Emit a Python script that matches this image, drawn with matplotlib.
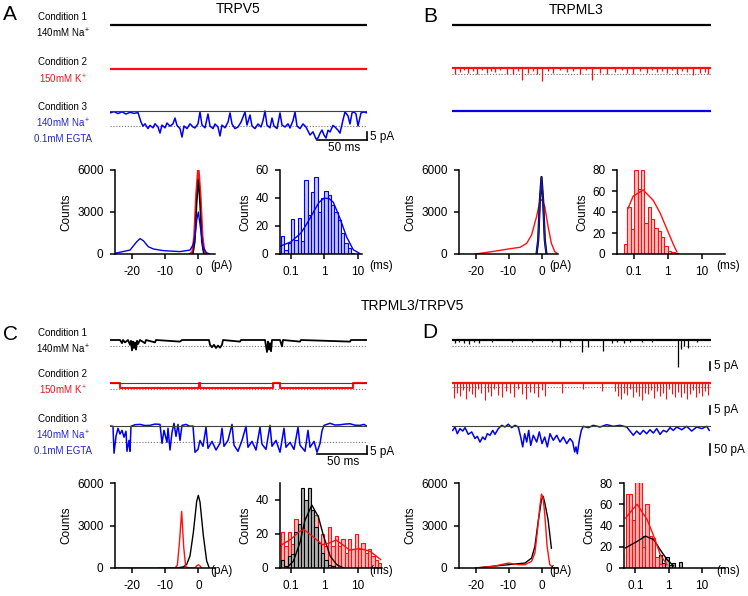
import numpy as np
import matplotlib
matplotlib.use("Agg")
import matplotlib.pyplot as plt
from matplotlib.ticker import NullLocator

plt.rcParams['font.family'] = ['Liberation Sans', 'DejaVu Sans']
plt.rcParams['mathtext.fontset'] = 'custom'
plt.rcParams['mathtext.rm'] = 'Liberation Sans'
plt.rcParams['mathtext.it'] = 'Liberation Sans:italic'
plt.rcParams['mathtext.bf'] = 'Liberation Sans:bold'
plt.rcParams['axes.unicode_minus'] = False

RED = '#ff1010'
BLUE = '#0000f0'
TXT_RED = '#e8141c'
TXT_BLUE = '#2626c8'

########### single channel traces: (time ms, current pA)
a3_pts = [(0, -1.2), (4, -0.4), (8, -1.6), (12, -0.5), (16, -1.9), (20, -0.8), (24, -1.5), (28, -1),
          (31, -6.9), (33, -9.5), (35, -8), (38, -11), (40, -9), (43, -10.5), (45, -8), (48, -10), (50, -13.8),
          (52, -8.8), (55, -10.5), (57, -7.5), (60, -9.5), (63, -8), (65, -4.4), (67, -9), (70, -11),
          (72, -16.3), (74, -9.4), (77, -11), (80, -8), (83, -10), (85, -10.6), (88, -8), (90, -0.6), (92, -8.8),
          (95, -10.5), (98, -1.9), (100, -9.4), (103, -11), (105, -8.1), (108, -10), (110, -15.6), (112, -8.8),
          (115, -10.5), (118, -7), (120, -1.2), (122, -8.1), (125, -11), (128, -10), (131, -7), (135, -0.6),
          (137, -8.8), (140, -2.5), (142, -9.4), (145, -11), (148, -8.1), (151, -10), (153, -6), (155, 0),
          (157, -8.8), (160, -10.5), (162, -4.4), (164, -9.4), (167, -11), (170, -1.2), (172, -8.8), (175, -10),
          (178, -8), (180, -10.6), (183, -6), (185, -0.6), (187, -9.4), (190, -11), (193, -8.1), (196, -10),
          (200, -15), (203, -13), (206, -17.5), (208, -16.9), (210, -14), (212, -11.9), (214, -15), (216, -16.9),
          (218, -12), (220, -13.1), (223, -9), (225, -10), (228, -12), (230, -13.8), (233, -5.6), (235, -0.6),
          (238, -3), (240, -8.1), (242, -1.2), (244, -0.5), (246, -1.9), (248, -9.4), (251, -1.2), (254, -0.6),
          (257, -1.2)]

b2_spike_t = [3, 8, 12, 16, 21, 25, 30, 35, 39, 43, 48, 55, 61, 66, 70, 76, 81, 85, 90, 96, 101, 108, 115, 121,
              128, 134, 140, 148, 155, 163, 170, 175, 181, 188, 195, 200, 205, 210, 215, 220, 225, 230, 235, 241,
              248, 253, 256]
b2_spike_d = [3.5, 2.5, 1.5, 3, 2, 4, 1.5, 3, 2, 2.5, 1.5, 3.5, 4, 2, 7.5, 3, 2, 3.5, 8, 2, 3, 1.5, 2.5, 2,
              3.5, 1.5, 7.5, 3, 4, 2.5, 1.5, 3, 3.5, 2, 3, 1.5, 2.5, 2, 3, 1.5, 3.5, 2, 2.5, 4.5, 3, 2.5, 3.5]

c1_pts = [(0, 0), (10, 0), (12, -2), (13, 0), (15, -1.5), (18, 0), (20, -3), (21, -0.5), (22, -6.5), (23, -1),
          (24, -5), (25, -1.5), (26, -6), (27, -0.5), (28, -2.5), (30, 0), (35, -2), (36, 0), (45, -1.5), (46, 0),
          (70, -1), (72, 0), (99, 0), (100, -3), (102, -4.5), (104, -3), (106, -5), (108, -3.5), (110, -4.8),
          (112, -3), (113, 0), (130, -1), (131, 0), (155, 0), (157, -7.5), (158, -1), (159, -6), (160, -2),
          (161, -7), (162, 0), (170, 0), (172, -4), (173, 0), (190, -1), (191, 0), (240, -1), (241, 0), (257, 0)]

c2_pts = [(0, 0), (10, 0), (10, -2.9), (89, -2.9), (89, 0), (90, 0), (90, -2.9), (163, -2.9), (163, 0),
          (170, 0), (170, -2.9), (243, -2.9), (243, 0), (257, 0)]

c3_pts = [(0, 0), (3, -0.2), (4, -17), (6, -6.5), (8, -1.4), (10, -5), (12, -2.7), (14, -7), (16, -3.3),
          (17, -15.8), (19, -9), (20, -15.8), (21, -0.2), (25, 0.8), (30, 1), (35, 0.3), (40, 0.4), (45, 1.2),
          (50, 1), (52, -10.8), (54, -2.7), (57, -10.2), (58, -1.4), (60, -15), (62, -4), (64, 1.7), (66, -6.5),
          (68, 1), (70, -9), (72, 0.4), (76, 1), (80, -0.2), (83, 0), (85, -16.4), (88, -14.6), (90, -9),
          (93, -12.7), (96, -0.8), (98, -14), (102, -9.6), (106, -15), (110, -10.8), (112, -1.4), (114, -12.7),
          (118, -9), (122, 1), (124, -12), (128, -15.8), (132, -9), (136, -0.2), (138, -13.3), (142, -9.6),
          (146, -15), (150, -0.8), (152, -11.4), (156, -14.6), (160, 0.4), (162, -12.7), (166, -9), (170, -16.4),
          (174, -1.4), (176, -13.3), (180, -10.2), (184, -14.6), (188, -0.8), (190, -12), (195, -15.8),
          (198, -2.7), (200, -13.3), (204, -9.6), (207, -16.4), (210, -11), (212, -3), (214, 0.4), (220, 1.7),
          (225, 0.6), (230, 0.75), (235, 1.2), (240, 1.4), (245, 0.5), (250, 0.4), (254, 1), (257, -0.2)]

d1_spike_t = [3, 7, 12, 17, 22, 27, 40, 60, 80, 100, 108, 118, 130, 136, 151, 160, 165, 172, 178, 190, 200,
              226, 229, 232, 236, 245]
d1_spike_d = [2, 1.5, 2, 2.5, 1.5, 2, 1, 1.5, 1, 1.5, 4.2, 1.5, 7.5, 4.2, 6.9, 2, 1.5, 2, 1.5, 1, 1.5,
              17, 5.6, 4, 5, 1.5]

d2_spike_t = [2, 5, 8, 11, 14, 17, 20, 23, 26, 29, 33, 36, 39, 42, 46, 50, 54, 58, 62, 66, 70, 74, 78, 82, 86,
              90, 93, 110, 131, 150, 163, 166, 169, 172, 175, 178, 181, 184, 187, 190, 193, 196, 199, 202, 205,
              208, 211, 214, 217, 220, 223, 226, 229, 232, 235, 238, 241, 244, 247, 250, 253, 256]
d2_spike_d = [9.5, 6, 8, 4.5, 10, 5, 7, 9, 4, 6.5, 10.4, 5.5, 8, 3.5, 7.5, 9, 5, 6, 8.5, 4, 7, 10, 5.5, 6, 9,
              4.5, 8, 6, 4, 5, 5, 8, 10, 6, 7.5, 4, 9, 5.5, 8, 10.4, 6, 7, 4.5, 9.5, 5, 8, 6.5, 10, 4, 7, 9,
              5.5, 8.5, 6, 10, 7, 4.5, 9, 6, 8, 5, 7.5]

d3_pts = [(0.7, -20), (3, -4.5), (5.3, -35), (8, -12), (10.7, -23), (13, -7.5), (16.3, -38), (19.7, -27),
          (23, -57), (25.3, -47), (28, -73), (30.7, -50), (33, -62), (35.3, -35), (38, -42), (40.7, -20),
          (43, -38), (46.3, -12), (49.7, 3), (53, -4.5), (56.3, 8), (59.7, -7.5), (63, 3), (66.3, -4.5),
          (68.7, -50), (70.7, -95), (72.7, -35), (74.7, -73), (76.7, -20), (78.7, -88), (81.3, -42), (84.7, -73),
          (87.3, -27), (90, -80), (92.7, -50), (95.3, -95), (98, -35), (101.3, -65), (104.7, -42), (108, -73),
          (111.3, -50), (114.7, -80), (118, -57), (120.7, -73), (122.7, -118), (124, -95), (125.3, -126),
          (127.3, -65), (129.3, -20), (131.3, -1.4), (136.3, -7.5), (141.3, 3), (148, -4.5), (154.7, 6),
          (161.3, -1.4), (168, 3), (174.7, -4.5), (178.7, -27), (181.3, -42), (184.7, -23), (188, -38),
          (191.3, -20), (194.7, -35), (198, -17), (201.3, -32), (204.7, -12), (208, -38), (211.3, -20),
          (214.7, -27), (218, -7.5), (221.3, -20), (224.7, -4.5), (229.7, -17), (234.7, -1.4), (239.7, -23),
          (244.7, -4.5), (249.7, -12), (254.7, -1.4), (257.3, -20)]

########### amplitude histograms (pA, counts)
a_amp_blue_x = [-25, -20.5, -18.5, -17.5, -16.5, -15, -13.5, -10.5, -5.5, -2.5, -1.5, -1, -0.5, 0, 0.6, 1.4, 2.4, 3.4]
a_amp_blue_y = [50, 280, 870, 1100, 950, 520, 360, 240, 170, 280, 700, 1230, 2400, 3000, 1950, 520, 95, 0]
a_amp_red_x = [-2.5, -1.8, -1.2, -0.6, 0, 0.6, 1.2, 1.8, 2.5]
a_amp_red_y = [0, 150, 1300, 4300, 6200, 4300, 1300, 150, 0]
a_amp_black_x = [-1.6, -1.0, -0.5, 0, 0.5, 1.0, 1.6]
a_amp_black_y = [0, 900, 3500, 5300, 3500, 900, 0]

b_amp_red_x = [-20, -15, -10, -6.5, -4.5, -3, -1.5, -0.5, 0.2, 1, 2, 3, 4, 5]
b_amp_red_y = [0, 170, 360, 480, 760, 1360, 2670, 3740, 3900, 3380, 1950, 760, 170, 0]
b_amp_x = [-1.5, -1, -0.5, 0, 0.5, 1, 1.5]
b_amp_black_y = [0, 1000, 3800, 5500, 3800, 1000, 0]
b_amp_blue_y = [0, 950, 3700, 5450, 3700, 950, 0]

c_amp_black_x = [-12, -6, -4.5, -3.5, -2.5, -1.5, -0.5, 0, 0.5, 1.5, 2.5, 3.2]
c_amp_black_y = [0, 20, 80, 250, 850, 2500, 4700, 5130, 4650, 2300, 500, 50]
c_amp_red_x = [-25, -7, -6.3, -5.7, -5, -4.4, -3.8, -3, -1, -0.5, 0, 0.5, 1]
c_amp_red_y = [0, 0, 200, 1700, 4000, 1500, 100, 0, 0, 150, 230, 150, 0]

d_amp_black_x = [-20, -10, -5, -3, -2, -1, 0, 0.5, 1, 2, 3]
d_amp_black_y = [0, 235, 350, 700, 1530, 3300, 4820, 5060, 4590, 3400, 1400]
d_amp_red_x = [-20, -15, -10, -7, -5, -3, -2, -1.2, -0.5, 0, 0.5, 1, 1.7, 2.5, 3.5]
d_amp_red_y = [0, 100, 350, 235, 235, 470, 1060, 2700, 4350, 5220, 4940, 3760, 1530, 235, 50]

########### dwell time histograms, 10 log bins per decade starting at 10**-1.3 ms
a_dwell_blue = [13, 3, 8, 25, 10, 26, 9, 53, 28, 44, 55, 30, 40, 45, 42, 35, 30, 24, 15, 8, 4, 1, 0]
a_fit_t = [0.047, 0.1, 0.2, 0.3, 0.5, 0.7, 1, 1.4, 1.86, 2.9, 4.7, 7.4, 11.7]
a_fit_c = [5.5, 8.7, 15, 21.6, 31, 37, 40, 39.5, 37, 26, 12, 3, 0.3]

b_dwell_red = [10, 45, 24, 80, 62, 80, 30, 45, 33, 25, 22, 16, 8, 3, 2, 1]
b_fit_t = [0.066, 0.093, 0.186, 0.37, 0.59, 0.93, 1.48, 1.86]
b_fit_c = [43.5, 55, 61, 51, 39, 24, 8.6, 2]

c_dwell_black = [5, 1, 7, 8, 21, 26, 47, 40, 47, 34, 24, 15, 9, 5, 2, 1]
c_fit_black_t = [0.074, 0.118, 0.186, 0.26, 0.42, 0.66, 0.93, 1.48, 2.3, 3.7]
c_fit_black_c = [0, 4, 15, 28, 37, 30, 19, 7, 2, 0]
c_dwell_red = [21, 13, 21, 14, 29, 20, 17, 33, 22, 30, 31, 5, 20, 13, 24, 13, 19, 13, 17, 9, 17, 11, 20, 11,
               15, 9, 11, 7, 5, 3]
c_fit_red_t = [0.047, 0.1, 0.18, 0.25, 0.44, 0.87, 1.4, 2.2, 3.5, 5.6, 11, 23, 47]
c_fit_red_c = [13, 17, 21.5, 22.5, 18.6, 13.7, 14.7, 16.5, 13.7, 10.5, 11.5, 9.8, 5]

d_dwell_red = [70, 70, 45, 82, 85, 20, 60, 30, 28, 10, 4]
d_dwell_black = [13, 35, 20, 25, 36, 30, 15, 25, 10, 5, 12, 5, 10, 3, 5, 0, 6]
d_fit_red_t = [0.05, 0.112, 0.224, 0.355, 0.56, 0.89]
d_fit_red_c = [47, 60, 45.5, 30, 12.5, 3]
d_fit_black_t = [0.05, 0.112, 0.2, 0.355, 0.56, 0.89, 1.4]
d_fit_black_c = [19, 25, 30, 26.7, 17, 8, 2]

W, H = 748, 596
fig = plt.figure(figsize=(W / 100, H / 100), dpi=100)


def px_axes(l, t, r, b):
    return fig.add_axes([l / W, 1 - b / H, (r - l) / W, (b - t) / H])


def px_text(x, y, s, **kw):
    kw.setdefault('fontsize', 7)
    kw.setdefault('ha', 'center')
    kw.setdefault('va', 'center')
    fig.text(x / W, 1 - y / H, s, **kw)


def trace_axes(x0, x1, y0, ppa, tmax):
    ax = px_axes(x0, y0 - 20, x1, y0 + 35)
    ax.set_xlim(0, tmax)
    ax.set_ylim(-35 / ppa, 20 / ppa)
    ax.axis('off')
    ax.patch.set_visible(False)
    return ax


def ref_lines(ax, closed=None, dotted=None, tmax=257):
    if dotted is not None:
        ax.plot([0, tmax], [dotted, dotted], color='#707070', lw=0.8, ls=(0, (1, 1.6)), zorder=1)
    if closed is not None:
        ax.plot([0, tmax], [closed, closed], color='#404040', lw=0.8, zorder=5)


def flat_trace(ax, color, tmax):
    ax.plot([0, tmax], [0, 0], color=color, lw=1.6)


def spike_trace(ax, color, tmax, st, sd, lw=0.9):
    ax.plot([0, tmax], [0, 0], color=color, lw=1.6, zorder=3)
    ax.vlines(st, -np.array(sd), 0, color=color, lw=lw, zorder=3)


def pts_trace(ax, pts, color, lw=1.1):
    t, i = np.array(pts).T
    ax.plot(t, i, color=color, lw=lw, zorder=3)


def scale_bars(ax, t_end, y_bot, pa=5, ms=50):
    ax.plot([t_end, t_end], [y_bot, y_bot + pa], color='k', lw=1.2, clip_on=False)
    if ms:
        ax.plot([t_end - ms, t_end], [y_bot, y_bot], color='k', lw=1.2, clip_on=False)


def hist_style(ax, xl, yl, yticks):
    for s in ['top', 'right']:
        ax.spines[s].set_visible(False)
    for s in ['left', 'bottom']:
        ax.spines[s].set_linewidth(1.1)
    ax.tick_params(direction='out', length=3.8, width=1.1, labelsize=8.5, pad=4.5)
    ax.set_xlim(*xl)
    ax.set_ylim(*yl)
    ax.set_yticks(yticks)
    ax.set_ylabel('Counts', fontsize=8.5, labelpad=3)
    ax.patch.set_visible(False)


def amp_axes(l, t, r, b):
    ax = px_axes(l, t, r, b)
    hist_style(ax, (-25, 5), (0, 6000), [0, 3000, 6000])
    ax.set_xticks([-20, -10, 0])
    return ax


def dwell_axes(l, t, r, b, xl, ymax, yticks):
    ax = px_axes(l, t, r, b)
    ax.set_xscale('log')
    hist_style(ax, xl, (0, ymax), yticks)
    ax.set_xticks([0.1, 1, 10])
    ax.set_xticklabels(['0.1', '1', '10'])
    ax.xaxis.set_minor_locator(NullLocator())
    return ax


def log_bars(ax, counts, color, face, start=-1.3):
    edges = 10 ** (start + 0.1 * np.arange(len(counts) + 1))
    ax.bar(edges[:-1], counts, width=np.diff(edges), align='edge', facecolor=face,
           edgecolor=color, linewidth=0.8)


########### titles, letters, condition labels
px_text(238, 9, 'TRPV5', fontsize=10)
px_text(576, 10, 'TRPML3', fontsize=10)
px_text(412, 306, 'TRPML3/TRPV5', fontsize=10)
for letter, x, y in [('A', 10, 15), ('B', 430, 17), ('C', 10, 334), ('D', 430, 333)]:
    px_text(x, y, letter, fontsize=15)

for dy in [0, 316]:
    px_text(63, 17 + dy, 'Condition 1')
    px_text(63, 33 + dy, r'140mM Na$^+$')
px_text(63, 62, 'Condition 2')
px_text(63, 79, r'150mM K$^+$', color=TXT_RED)
px_text(63, 107, 'Condition 3')
px_text(63, 123, r'140mM Na$^+$', color=TXT_BLUE)
px_text(63, 139, '0.1mM EGTA', color=TXT_BLUE)
px_text(63, 374, 'Condition 2')
px_text(63, 390, r'150mM K$^+$', color=TXT_RED)
px_text(63, 419, 'Condition 3')
px_text(63, 435, r'140mM Na$^+$', color=TXT_BLUE)
px_text(63, 451, '0.1mM EGTA', color=TXT_BLUE)

# scale bar labels
px_text(370, 137, '5 pA', fontsize=8.5, ha='left')
px_text(344, 148, '50 ms', fontsize=8.5)
px_text(370, 452, '5 pA', fontsize=8.5, ha='left')
px_text(343, 462, '50 ms', fontsize=8.5)
px_text(714, 366, '5 pA', fontsize=8.5, ha='left')
px_text(714, 410, '5 pA', fontsize=8.5, ha='left')
px_text(714, 450, '50 pA', fontsize=8.5, ha='left')

# unit labels
for x, y, s in [(221, 266, '(pA)'), (381, 266, '(ms)'), (560, 266, '(pA)'), (728, 266, '(ms)'),
                (221, 571, '(pA)'), (381, 571, '(ms)'), (560, 571, '(pA)'), (728, 571, '(ms)')]:
    px_text(x, y, s, fontsize=8.5)

PPA = 1.6
########### panel A traces
ax = trace_axes(110, 367, 25, PPA, 257)
flat_trace(ax, 'k', 257)
ax = trace_axes(110, 367, 69, PPA, 257)
flat_trace(ax, RED, 257)
ax = trace_axes(110, 367, 111, PPA, 257)
ref_lines(ax, closed=0, dotted=-9.5)
pts_trace(ax, a3_pts, BLUE)
scale_bars(ax, 257, -18.1)

########### panel B traces
ax = trace_axes(452, 711, 25, PPA, 259)
flat_trace(ax, 'k', 259)
ax = trace_axes(452, 711, 68, PPA, 259)
ref_lines(ax, dotted=-3.9, tmax=259)
spike_trace(ax, RED, 259, b2_spike_t, b2_spike_d)
ax = trace_axes(452, 711, 111, PPA, 259)
flat_trace(ax, BLUE, 259)

########### panel C traces
ax = trace_axes(110, 367, 340, PPA, 257)
ref_lines(ax, dotted=-3.6)
pts_trace(ax, c1_pts, 'k', lw=1.3)
ax = trace_axes(110, 367, 383, PPA, 257)
ref_lines(ax, closed=0, dotted=-3.5)
pts_trace(ax, c2_pts, RED, lw=1.5)
ax = trace_axes(110, 367, 426, PPA, 257)
ref_lines(ax, closed=0, dotted=-10)
pts_trace(ax, c3_pts, BLUE)
scale_bars(ax, 257, -17.7)

########### panel D traces
ax = trace_axes(452, 711, 340, PPA, 259)
ref_lines(ax, dotted=-3.6, tmax=259)
spike_trace(ax, 'k', 259, d1_spike_t, d1_spike_d)
scale_bars(ax, 258, -18.75, ms=0)
ax = trace_axes(452, 711, 383, PPA, 259)
ref_lines(ax, dotted=-2.5, tmax=259)
spike_trace(ax, RED, 259, d2_spike_t, d2_spike_d, lw=0.8)
scale_bars(ax, 258, -19.2, ms=0)
ax = trace_axes(452, 711, 426, 0.22, 259)
ref_lines(ax, closed=0, tmax=259)
pts_trace(ax, d3_pts, BLUE)
scale_bars(ax, 258, -133, pa=50, ms=0)

########### amplitude histograms
ax = amp_axes(115, 170, 215, 254)
ax.plot(a_amp_red_x, a_amp_red_y, color=RED, lw=1.6)
ax.plot(a_amp_black_x, a_amp_black_y, color='k', lw=1.0)
ax.plot(a_amp_blue_x, a_amp_blue_y, color=BLUE, lw=1.0)

ax = amp_axes(459, 170, 558, 254)
ax.plot(b_amp_red_x, b_amp_red_y, color=RED, lw=1.0)
ax.plot(b_amp_x, b_amp_black_y, color='k', lw=1.6)
ax.plot(b_amp_x, b_amp_blue_y, color='#1a1ab0', lw=1.0)

ax = amp_axes(115, 483, 215, 568)
ax.plot(c_amp_black_x, c_amp_black_y, color='k', lw=1.0)
ax.plot(c_amp_red_x, c_amp_red_y, color=RED, lw=1.0)

ax = amp_axes(459, 483, 558, 568)
ax.plot(d_amp_black_x, d_amp_black_y, color='k', lw=1.0)
ax.plot(d_amp_red_x, d_amp_red_y, color=RED, lw=1.0)

########### dwell time histograms
ax = dwell_axes(280, 170, 362, 254, (0.047, 13.5), 60, [0, 20, 40, 60])
log_bars(ax, a_dwell_blue, BLUE, '#c4c4ff')
ax.plot(a_fit_t, a_fit_c, color=BLUE, lw=1.0)

ax = dwell_axes(617, 170, 725, 254, (0.031, 49.6), 80, [0, 20, 40, 60, 80])
log_bars(ax, b_dwell_red, RED, '#ffc0c0')
ax.plot(b_fit_t, b_fit_c, color=RED, lw=1.0)

ax = dwell_axes(280, 483, 382, 568, (0.047, 52), 50, [0, 20, 40])
log_bars(ax, c_dwell_red, RED, '#ffb8b8')
log_bars(ax, c_dwell_black, 'k', '#b0b0b0')
ax.plot(c_fit_black_t, c_fit_black_c, color='k', lw=1.0)
ax.plot(c_fit_red_t, c_fit_red_c, color=RED, lw=1.0)

ax = dwell_axes(624, 483, 725, 568, (0.045, 50), 80, [0, 20, 40, 60, 80])
log_bars(ax, d_dwell_black, 'k', '#b0b0b0')
log_bars(ax, d_dwell_red, RED, '#ffb0b0')
ax.plot(d_fit_black_t, d_fit_black_c, color='k', lw=1.0)
ax.plot(d_fit_red_t, d_fit_red_c, color=RED, lw=1.0)

fig.savefig('out.png', dpi=100)
